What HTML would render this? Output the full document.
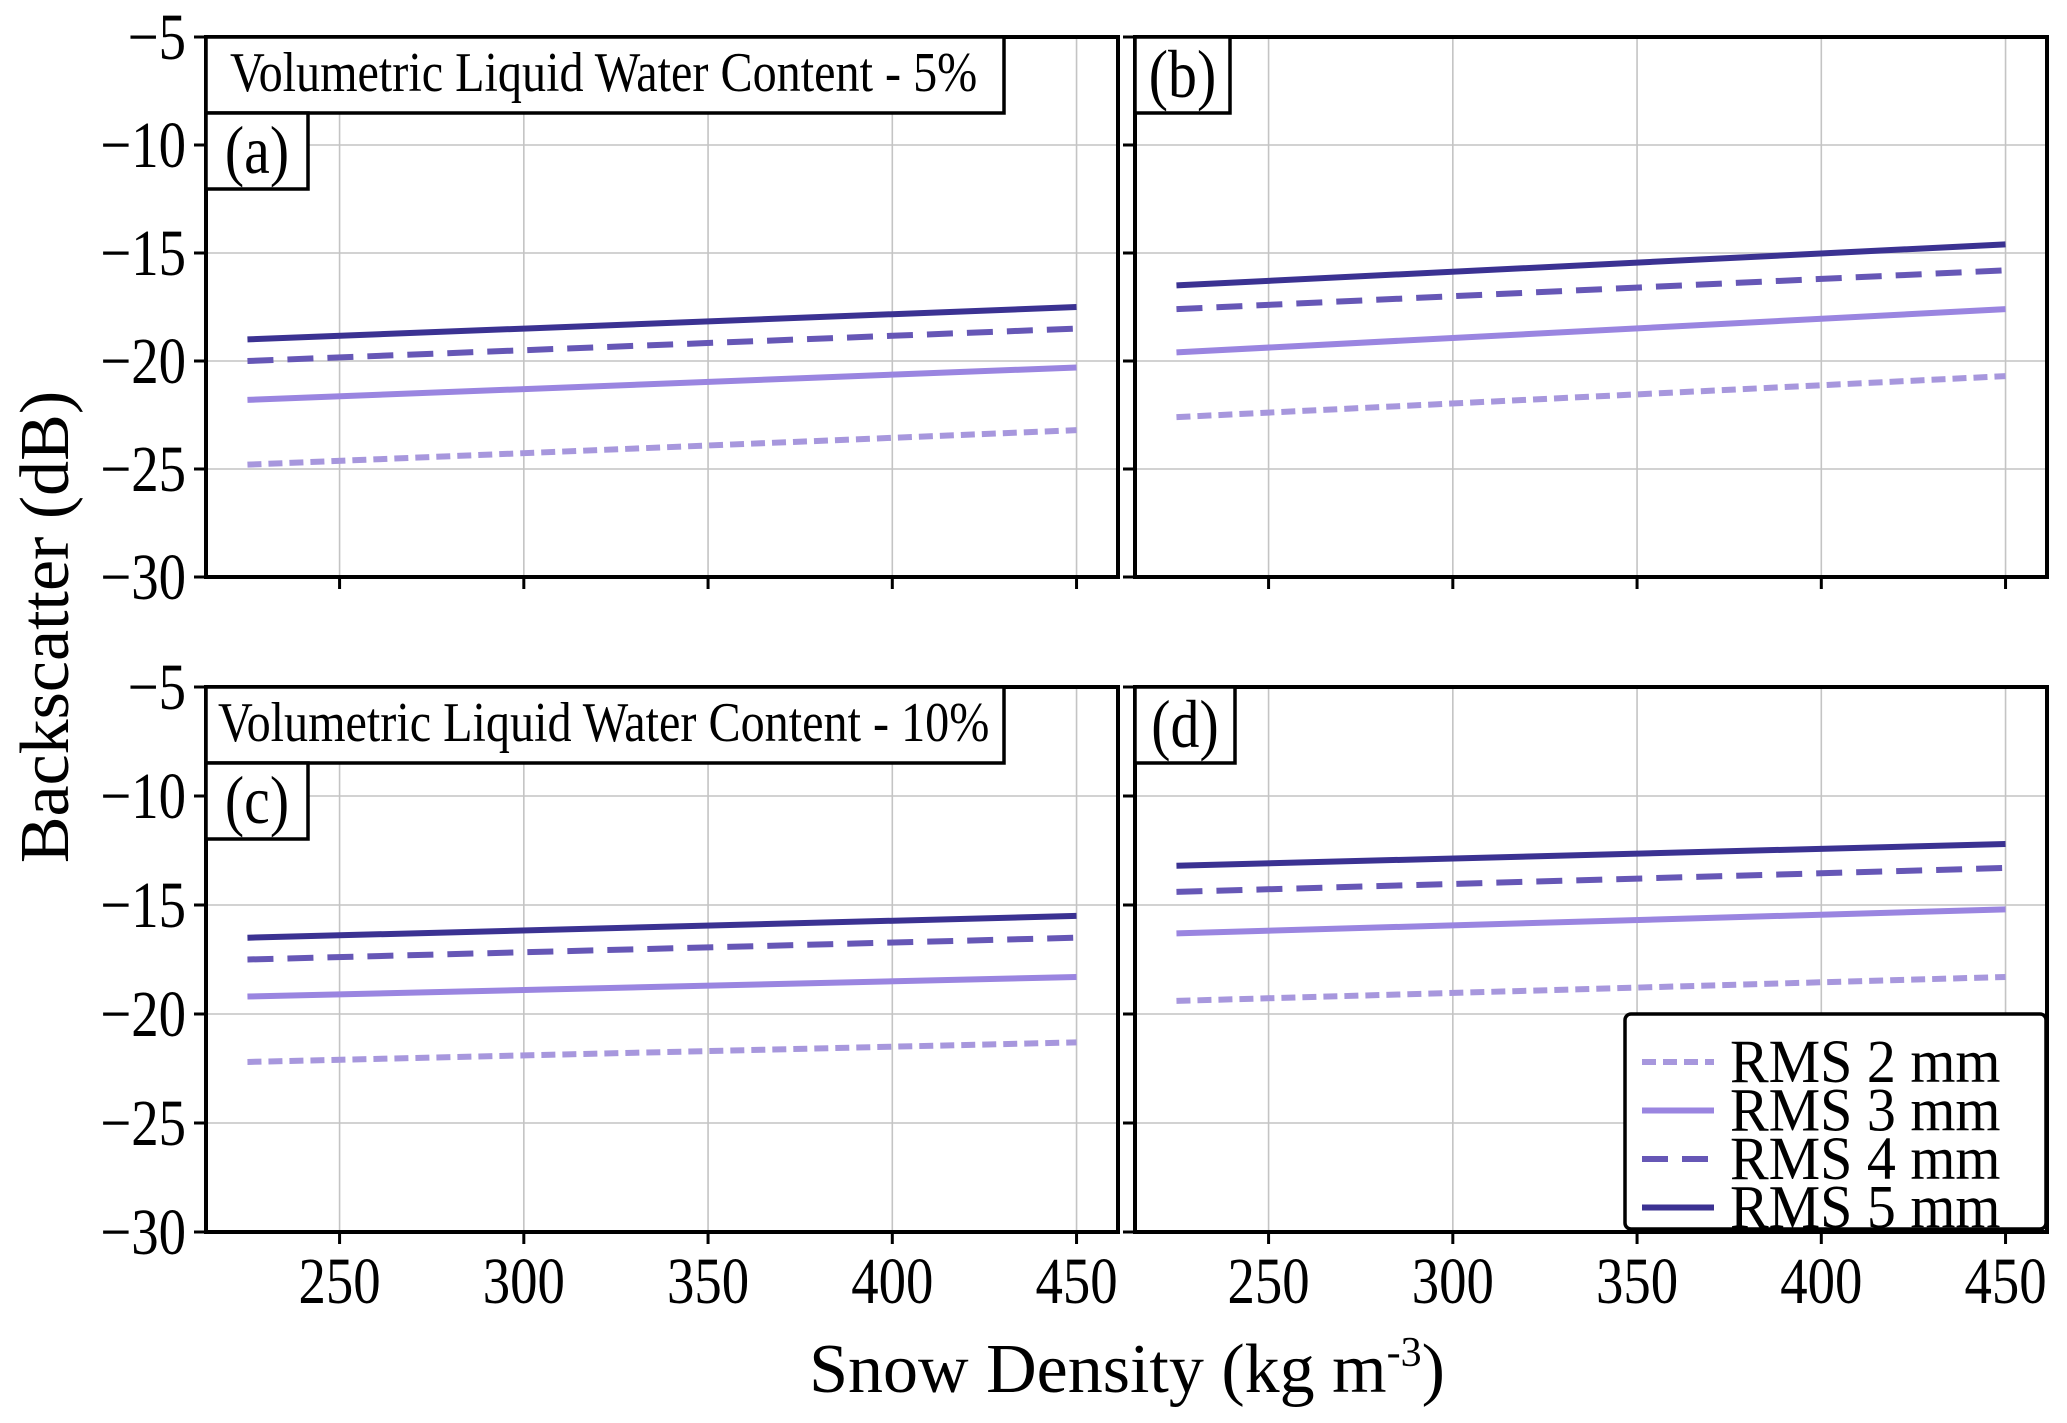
<!DOCTYPE html>
<html><head><meta charset="utf-8"><style>
html,body{margin:0;padding:0;background:#fff;}
svg{display:block;font-family:"Liberation Serif",serif;}
</style></head><body>
<svg id="fig" width="2067" height="1423" viewBox="0 0 2067 1423"></svg>
<script>
const xValues = [225, 450];
const seriesNames = ["RMS 2 mm", "RMS 3 mm", "RMS 4 mm", "RMS 5 mm"];
const panelA = [[-24.8, -23.2], [-21.8, -20.3], [-20.0, -18.5], [-19.0, -17.5]];
const panelB = [[-22.6, -20.7], [-19.6, -17.6], [-17.6, -15.8], [-16.5, -14.6]];
const panelC = [[-22.2, -21.3], [-19.2, -18.3], [-17.5, -16.5], [-16.5, -15.5]];
const panelD = [[-19.4, -18.3], [-16.3, -15.2], [-14.4, -13.3], [-13.2, -12.2]];
const xTicks = [250, 300, 350, 400, 450];
const yTicks = [-5, -10, -15, -20, -25, -30];
const yTickLabels = ["\u22125", "\u221210", "\u221215", "\u221220", "\u221225", "\u221230"];

const NS = "http://www.w3.org/2000/svg";
const svg = document.getElementById("fig");
const colors = ["#a797dd", "#9a85e0", "#6657b6", "#3b3292"];
const dashes = ["14,7", null, "26,14", null];
const xMin = 213.75, xMax = 461.25, yMin = -30, yMax = -5;

function mk(tag, attrs, parent) {
  const e = document.createElementNS(NS, tag);
  for (const k in attrs) e.setAttribute(k, attrs[k]);
  (parent || svg).appendChild(e);
  return e;
}
function ctext(x, y, size, sx, anchor, parent) {
  const g = mk("g", {transform: "translate(" + x + "," + y + ") scale(" + sx + ",1)"}, parent);
  return mk("text", {x: 0, y: 0, "font-size": size, "text-anchor": anchor}, g);
}

const panels = [
  {id: "a", data: panelA, L: 206, R: 1118, T: 37, B: 577, yl: true, xl: false, title: "Volumetric Liquid Water Content - 5%"},
  {id: "b", data: panelB, L: 1135, R: 2047, T: 37, B: 577, yl: false, xl: false},
  {id: "c", data: panelC, L: 206, R: 1118, T: 687, B: 1232, yl: true, xl: true, title: "Volumetric Liquid Water Content - 10%"},
  {id: "d", data: panelD, L: 1135, R: 2047, T: 687, B: 1232, yl: false, xl: true}
];

panels.forEach(p => {
  const g = mk("g", {});
  
  
  const sx = v => p.L + (v - xMin) / (xMax - xMin) * (p.R - p.L);
  const sy = v => p.B - (v - yMin) / (yMax - yMin) * (p.B - p.T);
  xTicks.forEach(t => {
    const l = mk("line", {x1: sx(t), x2: sx(t), y1: p.T, y2: p.B, stroke: "#c4c4c4", "stroke-width": 1.6}, g);
    
    
    const tk = mk("line", {x1: sx(t), x2: sx(t), y1: p.B, y2: p.B + 12, stroke: "#000", "stroke-width": 3}, g);
    
    
    if (p.xl) {
      const tx = ctext(sx(t), 1303, 66, 0.83, "middle", g);
      tx.textContent = t;
      
      
    }
  });
  yTicks.forEach((t, i) => {
    const l = mk("line", {x1: p.L, x2: p.R, y1: sy(t), y2: sy(t), stroke: "#c4c4c4", "stroke-width": 1.6}, g);
    
    
    const tk = mk("line", {x1: p.L - 12, x2: p.L, y1: sy(t), y2: sy(t), stroke: "#000", "stroke-width": 3}, g);
    
    
    if (p.yl) {
      const tx = ctext(p.L - 20, sy(t) + 22, 66, 0.83, "end", g);
      tx.textContent = yTickLabels[i];
      
      
    }
  });
  p.data.forEach((vals, si) => {
    const pts = vals.map((v, i) => sx(xValues[i]) + "," + sy(v)).join(" ");
    const a = {points: pts, fill: "none", stroke: colors[si], "stroke-width": 6};
    if (dashes[si]) a["stroke-dasharray"] = dashes[si];
    const pl = mk("polyline", a, g);
    
    
  });
  const fr = mk("rect", {x: p.L, y: p.T, width: p.R - p.L, height: p.B - p.T, fill: "none", stroke: "#000", "stroke-width": 4}, g);
  
  
  let labelTop = p.T;
  if (p.title) {
    const bx = mk("rect", {x: p.L, y: p.T, width: 798, height: 76, fill: "#fff", stroke: "#000", "stroke-width": 3.5}, g);
    
    
    const tt = ctext(p.L + (p.id === "a" ? 24 : 12), p.T + 54, 56, 0.86, "start", g);
    tt.textContent = p.title;
    
    
    labelTop = p.T + 76;
  }
  const bw = p.id === "d" ? 100 : (p.id === "b" ? 95 : 102);
  const lb = mk("rect", {x: p.L, y: labelTop, width: bw, height: 76, fill: "#fff", stroke: "#000", "stroke-width": 3.5}, g);
  
  
  const lt = ctext(p.L + bw / 2, labelTop + 60, 68, 0.85, "middle", g);
  lt.textContent = "(" + p.id + ")";
  
  
});

const lg = mk("g", {});


const lr = mk("rect", {x: 1625, y: 1014, width: 421, height: 215, rx: 6, fill: "#fff", stroke: "#000", "stroke-width": 3.5}, lg);


seriesNames.forEach((n, i) => {
  const y = 1062 + i * 48.5;
  const a = {x1: 1642, x2: 1714, y1: y, y2: y, stroke: colors[i], "stroke-width": 6};
  if (dashes[i]) a["stroke-dasharray"] = dashes[i];
  const l = mk("line", a, lg);
  
  
  const t = ctext(1730, y + 20, 61, 0.95, "start", lg);
  t.textContent = n;
  
  
});

const yt = mk("text", {x: 0, y: 0, "font-size": 70, "text-anchor": "middle", transform: "translate(68,627) rotate(-90)"});
yt.textContent = "Backscatter (dB)";


const xt = mk("text", {x: 1127, y: 1392, "font-size": 70, "text-anchor": "middle"});
xt.innerHTML = 'Snow Density (kg m<tspan dy="-26" font-size="42">-3</tspan><tspan dy="26">)</tspan>';


</script>
</body></html>
